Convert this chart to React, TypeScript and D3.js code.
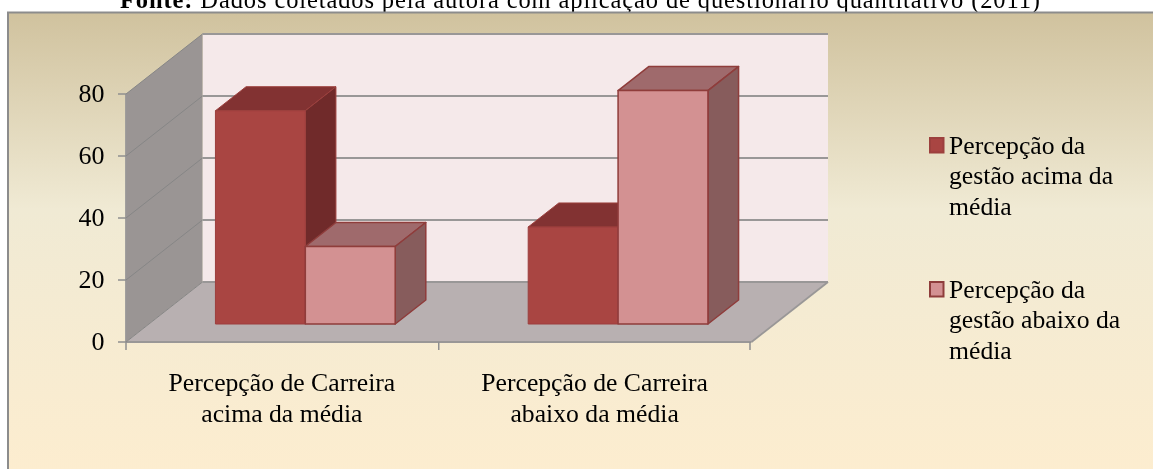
import React from "react";
import * as d3 from "d3";

const categories = [
  ["Percepção de Carreira", "acima da média"],
  ["Percepção de Carreira", "abaixo da média"],
];
const seriesNames = ["acima", "abaixo"];
const seriesAcima = [68.8, 31.3];
const seriesAbaixo = [25, 75.3];
const yTicks = [0, 20, 40, 60, 80];
const legendLines = [
  ["Percepção da", "gestão acima da", "média"],
  ["Percepção da", "gestão abaixo da", "média"],
];
const seriesColors = [
  { front: "#a94442", top: "#823230", side: "#6f2b2a", stroke: "#9c3f3d", swatch: "#a94442" },
  { front: "#d39192", top: "#9f6b6c", side: "#875c5c", stroke: "#8f3c3b", swatch: "#d39192" },
];

const width = 1153;
const height = 469;
const font = "'Liberation Serif', serif";

// oblique projection: depth 0 = front of the floor, depth 1 = back wall
const depthX = 76.5;
const depthY = -60;
const barDepthStart = 0.3;
const barDepthEnd = 0.7;

const x0 = d3.scaleBand<number>().domain([0, 1]).range([126, 751.5]);
const yScale = d3.scaleLinear().domain([0, 80]).range([342, 94]);
const barGap = 66.5;
const xBar = d3.scaleBand<string>().domain(seriesNames).range([0, x0.bandwidth() - 2 * barGap]);

const pt = (x: number, v: number, d: number): [number, number] => [x + depthX * d, yScale(v) + depthY * d];
const poly = (pts: [number, number][]) => d3.line()(pts) + "Z";

function Bar3D({ cat, s, value }: { cat: number; s: number; value: number }) {
  const c = seriesColors[s];
  const a = (x0(cat) as number) + barGap + (xBar(seriesNames[s]) as number);
  const b = a + xBar.bandwidth();
  const d0 = barDepthStart;
  const d1 = barDepthEnd;
  return (
    <g stroke={c.stroke} strokeWidth={s === 1 ? 1.5 : 1} strokeLinejoin="round">
      <path d={poly([pt(a, value, d0), pt(b, value, d0), pt(b, value, d1), pt(a, value, d1)])} fill={c.top} />
      <path d={poly([pt(b, 0, d0), pt(b, value, d0), pt(b, value, d1), pt(b, 0, d1)])} fill={c.side} />
      <path d={poly([pt(a, 0, d0), pt(b, 0, d0), pt(b, value, d0), pt(a, value, d0)])} fill={c.front} />
    </g>
  );
}

export default function App() {
  const [left, right] = x0.range();
  const xTicks = [left, x0(1) as number, 750];
  return (
    <svg width={width} height={height} style={{ position: "fixed", left: 0, top: 0, background: "#fff" }} fontFamily={font}>
      <defs>
        <linearGradient id="bg" x1="0" y1="0" x2="0" y2="1">
          <stop offset="0" stopColor="#d0c29e" />
          <stop offset="0.42" stopColor="#f0ead4" />
          <stop offset="1" stopColor="#fdedcf" />
        </linearGradient>
        <filter id="soft" x="-2%" y="-2%" width="104%" height="104%">
          <feGaussianBlur stdDeviation="0.4" />
        </filter>
      </defs>

      <g filter="url(#soft)">
        <text x={120} y={7.5} fontSize={24.5} fill="#000" textLength={920} lengthAdjust="spacing">
          <tspan fontWeight="bold">Fonte:</tspan> Dados coletados pela autora com aplicação de questionário quantitativo (2011)
        </text>

        <rect x={8} y={12.5} width={width} height={height} fill="url(#bg)" stroke="#8c8c8c" strokeWidth={2} />

        {/* walls and floor */}
        <path d={poly([pt(left, 0, 1), pt(right, 0, 1), pt(right, 80, 1), pt(left, 80, 1)])} fill="#f5e9ea" />
        <path d={poly([pt(left, 0, 0), pt(left, 0, 1), pt(left, 80, 1), pt(left, 80, 0)])} fill="#9a9594" />
        <path d={poly([pt(left, 0, 0), pt(right, 0, 0), pt(right, 0, 1), pt(left, 0, 1)])} fill="#b8b0b1" />

        {/* gridlines run up the side wall and along the back */}
        <g fill="none" stroke="#999797" strokeWidth={1.8}>
          {yTicks.map((t) => (
            <path key={t} d={d3.line()([pt(left, t, 1), pt(right, t, 1)]) as string} />
          ))}
          <path d={d3.line()([pt(right, 0, 0), pt(right, 0, 1)]) as string} />
          <path d={d3.line()([pt(left, 0, 0), pt(right, 0, 0)]) as string} />
          <path d={d3.line()([pt(left, 0, 0), pt(left, 80, 0)]) as string} />
        </g>
        <g fill="none" stroke="#868686" strokeWidth={1}>
          {yTicks.map((t) => (
            <path key={t} d={d3.line()([pt(left, t, 0), pt(left, t, 1)]) as string} />
          ))}
        </g>

        {/* axis ticks */}
        <g stroke="#8f8f8f" strokeWidth={1.5}>
          {yTicks.map((t) => (
            <line key={t} x1={left - 8} x2={left} y1={yScale(t)} y2={yScale(t)} />
          ))}
          {xTicks.map((x) => (
            <line key={x} x1={x} x2={x} y1={yScale(0)} y2={yScale(0) + 8} />
          ))}
        </g>

        {categories.map((_, i) => (
          <g key={i}>
            <Bar3D cat={i} s={0} value={seriesAcima[i]} />
            <Bar3D cat={i} s={1} value={seriesAbaixo[i]} />
          </g>
        ))}

        <g fontSize={26} textAnchor="end" fill="#000">
          {yTicks.map((t) => (
            <text key={t} x={104.5} y={yScale(t) + 8}>{t}</text>
          ))}
        </g>

        <g fontSize={25.7} textAnchor="middle" fill="#000">
          {categories.map((lines, i) =>
            lines.map((line, j) => (
              <text key={j} x={(x0(i) as number) + x0.bandwidth() / 2 - 0.5} y={391 + j * 30.5}>{line}</text>
            ))
          )}
        </g>

        {legendLines.map((lines, i) => (
          <g key={i} transform={`translate(0,${i * 144})`}>
            <rect x={930} y={138} width={13.5} height={14.5} fill={seriesColors[i].swatch} stroke={seriesColors[i].stroke} strokeWidth={2} />
            {lines.map((line, j) => (
              <text key={j} x={949} y={153.6 + j * 30.6} fontSize={25.7} fill="#000">{line}</text>
            ))}
          </g>
        ))}
      </g>
    </svg>
  );
}
